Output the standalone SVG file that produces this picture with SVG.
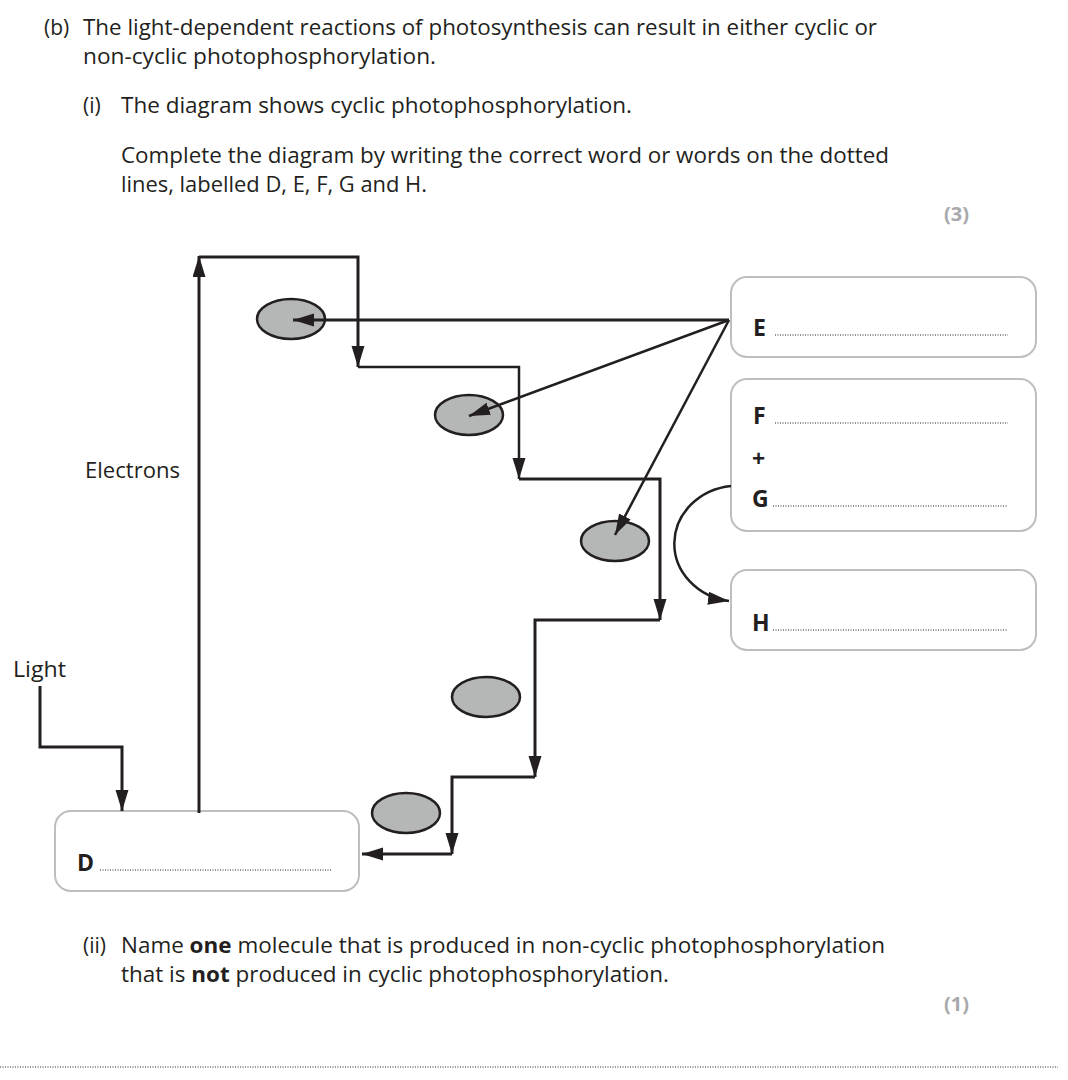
<svg xmlns="http://www.w3.org/2000/svg" width="1068" height="1080" viewBox="0 0 1068 1080">
<style>
.t{font-family:"Open Sans","Liberation Sans",sans-serif;font-size:21px;fill:#231f20}
.b{font-weight:bold}
.m{font-family:"Open Sans","Liberation Sans",sans-serif;font-size:20px;font-weight:bold;fill:#a7a9ac}
.lab{font-family:"Open Sans","Liberation Sans",sans-serif;font-size:23px;font-weight:bold;fill:#231f20}
.box{fill:#fff;stroke:#bcbec0;stroke-width:2}
.dots{stroke:#231f20;stroke-width:1;stroke-dasharray:1 1.5;fill:none}
.ln{fill:none;stroke:#231f20;stroke-width:3}
.ln2{fill:none;stroke:#231f20;stroke-width:2.5}
.ell{fill:#b5b6b6;stroke:#231f20;stroke-width:2.5}
</style>
<defs>
<marker id="ah" markerUnits="userSpaceOnUse" markerWidth="24" markerHeight="14" refX="21" refY="6.5" orient="auto">
<path d="M0,0 L21,6.5 L0,13 Z" fill="#231f20"/>
</marker>
</defs>
<rect width="1068" height="1080" fill="#fff"/>

<g id="question-text">
<text class="t" x="44" y="35">(b)</text>
<text class="t" x="83" y="35" textLength="794" lengthAdjust="spacingAndGlyphs">The light-dependent reactions of photosynthesis can result in either cyclic or</text>
<text class="t" x="83" y="64" textLength="353" lengthAdjust="spacingAndGlyphs">non-cyclic photophosphorylation.</text>
<text class="t" x="83" y="113">(i)</text>
<text class="t" x="121" y="113" textLength="511" lengthAdjust="spacingAndGlyphs">The diagram shows cyclic photophosphorylation.</text>
<text class="t" x="121" y="163" textLength="768" lengthAdjust="spacingAndGlyphs">Complete the diagram by writing the correct word or words on the dotted</text>
<text class="t" x="121" y="192" textLength="306" lengthAdjust="spacingAndGlyphs">lines, labelled D, E, F, G and H.</text>
<text class="m" x="944" y="221">(3)</text>
<text class="t" x="83" y="953">(ii)</text>
<text class="t" x="121" y="953" textLength="764" lengthAdjust="spacingAndGlyphs">Name <tspan class="b">one</tspan> molecule that is produced in non-cyclic photophosphorylation</text>
<text class="t" x="121" y="982" textLength="548" lengthAdjust="spacingAndGlyphs">that is <tspan class="b">not</tspan> produced in cyclic photophosphorylation.</text>
<text class="m" x="944" y="1011">(1)</text>
<line class="dots" x1="0" y1="1067" x2="1058" y2="1067"/>
</g>

<g id="label-electrons"><text class="t" x="85" y="478" textLength="95" lengthAdjust="spacingAndGlyphs">Electrons</text></g>
<g id="label-light"><text class="t" x="13" y="677" textLength="53" lengthAdjust="spacingAndGlyphs">Light</text></g>

<g id="carriers">
<ellipse id="carrier1" class="ell" cx="291" cy="319" rx="34" ry="20"/>
<ellipse id="carrier2" class="ell" cx="469" cy="415" rx="34" ry="20"/>
<ellipse id="carrier3" class="ell" cx="615" cy="541" rx="34" ry="20"/>
<ellipse id="carrier4" class="ell" cx="486" cy="697" rx="34" ry="20"/>
<ellipse id="carrier5" class="ell" cx="406" cy="813" rx="34" ry="20"/>
</g>

<g id="node-D">
<rect class="box" x="55" y="811" width="304" height="80" rx="16"/>
<text class="lab" x="77" y="871">D</text>
<line class="dots" x1="100" y1="870" x2="332" y2="870"/>
</g>
<g id="node-E">
<rect class="box" x="731" y="277" width="305" height="80" rx="16"/>
<text class="lab" x="753" y="336">E</text>
<line class="dots" x1="775" y1="335" x2="1008" y2="335"/>
</g>
<g id="node-FG">
<rect class="box" x="731" y="379" width="305" height="152" rx="16"/>
<text class="lab" x="753" y="424">F</text>
<line class="dots" x1="775" y1="423" x2="1008" y2="423"/>
<text class="lab" x="752" y="467">+</text>
<text class="lab" x="752" y="507">G</text>
<line class="dots" x1="773" y1="506" x2="1008" y2="506"/>
</g>
<g id="node-H">
<rect class="box" x="731" y="570" width="305" height="80" rx="16"/>
<text class="lab" x="752" y="631">H</text>
<line class="dots" x1="773" y1="630" x2="1008" y2="630"/>
</g>

<g id="connectors">
<polyline class="ln" points="40,686 40,747 122,747 122,811" marker-end="url(#ah)"/>
<line class="ln" x1="199" y1="813" x2="199" y2="256" marker-end="url(#ah)"/>
<polyline class="ln" points="199,257 358,257 358,367" marker-end="url(#ah)"/>
<polyline class="ln2" points="358,367 519,367 519,479" marker-end="url(#ah)"/>
<polyline class="ln" points="519,479 660,479 660,620" marker-end="url(#ah)"/>
<polyline class="ln" points="660,620 535,620 535,777" marker-end="url(#ah)"/>
<polyline class="ln" points="535,777 452,777 452,854" marker-end="url(#ah)"/>
<polyline class="ln" points="452,854 362,854" marker-end="url(#ah)"/>
<line class="ln" x1="729" y1="320" x2="293" y2="320" marker-end="url(#ah)"/>
<line class="ln2" x1="729" y1="320" x2="469" y2="416" marker-end="url(#ah)"/>
<line class="ln2" x1="729" y1="320" x2="615" y2="535" marker-end="url(#ah)"/>
<path class="ln2" d="M731,486 A64,58 0 0 0 729,601" marker-end="url(#ah)"/>
</g>
</svg>
